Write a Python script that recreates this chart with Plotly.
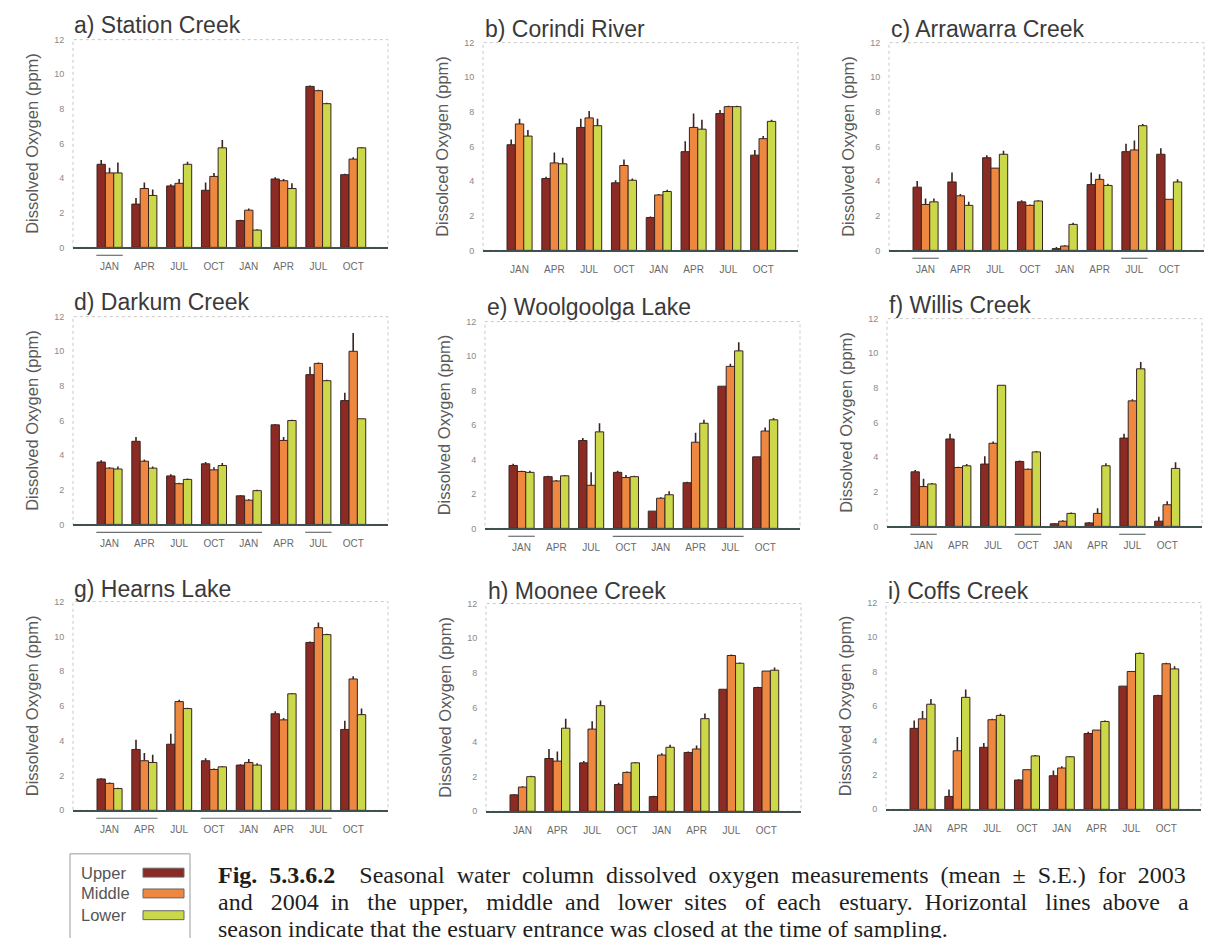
import plotly.graph_objects as go

# ---------------- data ----------------
months = ["JAN", "APR", "JUL", "OCT", "JAN", "APR", "JUL", "OCT"]
sites = ["Upper", "Middle", "Lower"]
site_colors = ["#8c2a24", "#ee8740", "#cbd84a"]

# each *_mean / *_se : rows = Upper, Middle, Lower ; columns = sampling seasons 2003-2004
station_mean = [[4.8, 2.5, 3.55, 3.3, 1.55, 3.95, 9.3, 4.2],
                [4.3, 3.4, 3.7, 4.1, 2.15, 3.85, 9.05, 5.1],
                [4.3, 3.0, 4.8, 5.75, 1.0, 3.4, 8.3, 5.75]]
station_se = [[0.25, 0.35, 0.1, 0.45, 0.05, 0.1, 0.05, 0.05],
              [0.3, 0.35, 0.25, 0.2, 0.1, 0.1, 0.05, 0.1],
              [0.6, 0.35, 0.15, 0.45, 0.05, 0.3, 0.05, 0.05]]
station_closed = [(0, 0)]

corindi_mean = [[6.1, 4.15, 7.1, 3.9, 1.9, 5.7, 7.9, 5.5],
                [7.3, 5.05, 7.65, 4.9, 3.2, 7.1, 8.3, 6.45],
                [6.6, 5.0, 7.2, 4.05, 3.4, 7.0, 8.3, 7.45]]
corindi_se = [[0.3, 0.1, 0.5, 0.15, 0.05, 0.6, 0.2, 0.3],
              [0.3, 0.6, 0.4, 0.35, 0.05, 0.8, 0.05, 0.15],
              [0.35, 0.35, 0.4, 0.1, 0.1, 0.55, 0.05, 0.1]]
corindi_closed = []

arrawarra_mean = [[3.65, 3.95, 5.35, 2.8, 0.1, 3.8, 5.7, 5.55],
                  [2.65, 3.15, 4.75, 2.6, 0.25, 4.1, 5.8, 2.95],
                  [2.8, 2.6, 5.55, 2.85, 1.5, 3.75, 7.2, 3.95]]
arrawarra_se = [[0.35, 0.55, 0.15, 0.1, 0.1, 0.7, 0.45, 0.35],
                [0.35, 0.1, 0.0, 0.05, 0.05, 0.3, 0.55, 0.0],
                [0.2, 0.2, 0.2, 0.05, 0.1, 0.1, 0.1, 0.15]]
arrawarra_closed = [(0, 0), (6, 6)]

darkum_mean = [[3.6, 4.8, 2.8, 3.5, 1.65, 5.75, 8.65, 7.15],
               [3.25, 3.65, 2.35, 3.15, 1.4, 4.85, 9.3, 10.0],
               [3.2, 3.25, 2.6, 3.4, 1.95, 6.0, 8.3, 6.1]]
darkum_se = [[0.1, 0.25, 0.1, 0.1, 0.05, 0.05, 0.45, 0.45],
             [0.05, 0.1, 0.05, 0.15, 0.05, 0.2, 0.05, 1.05],
             [0.15, 0.1, 0.05, 0.15, 0.05, 0.05, 0.05, 0.0]]
darkum_closed = [(0, 4), (6, 6)]

woolgoolga_mean = [[3.65, 3.0, 5.1, 3.25, 1.0, 2.65, 8.25, 4.15],
                   [3.3, 2.75, 2.5, 2.95, 1.75, 5.0, 9.4, 5.65],
                   [3.25, 3.05, 5.6, 3.0, 1.95, 6.1, 10.3, 6.3]]
woolgoolga_se = [[0.1, 0.05, 0.15, 0.1, 0.0, 0.05, 0.0, 0.0],
                 [0.05, 0.05, 0.75, 0.15, 0.05, 0.55, 0.15, 0.2],
                 [0.1, 0.05, 0.5, 0.05, 0.2, 0.2, 0.5, 0.1]]
woolgoolga_closed = [(0, 0), (3, 6)]

willis_mean = [[3.15, 5.05, 3.6, 3.75, 0.15, 0.2, 5.1, 0.3],
               [2.3, 3.4, 4.8, 3.3, 0.3, 0.75, 7.25, 1.25],
               [2.45, 3.5, 8.15, 4.3, 0.75, 3.5, 9.1, 3.35]]
willis_se = [[0.1, 0.3, 0.45, 0.05, 0.05, 0.05, 0.25, 0.25],
             [0.45, 0.05, 0.1, 0.05, 0.05, 0.3, 0.1, 0.2],
             [0.05, 0.1, 0.0, 0.05, 0.05, 0.15, 0.4, 0.35]]
willis_closed = [(0, 0), (3, 3), (6, 6)]

hearns_mean = [[1.8, 3.5, 3.8, 2.85, 2.6, 5.55, 9.65, 4.65],
               [1.55, 2.85, 6.25, 2.35, 2.75, 5.2, 10.5, 7.55],
               [1.25, 2.75, 5.85, 2.5, 2.6, 6.7, 10.1, 5.5]]
hearns_se = [[0.05, 0.55, 0.6, 0.15, 0.05, 0.15, 0.05, 0.5],
             [0.05, 0.45, 0.1, 0.05, 0.2, 0.1, 0.3, 0.15],
             [0.05, 0.45, 0.05, 0.05, 0.1, 0.05, 0.05, 0.35]]
hearns_closed = [(0, 1), (3, 6)]

moonee_mean = [[0.95, 3.05, 2.8, 1.55, 0.85, 3.4, 7.05, 7.15],
               [1.4, 2.9, 4.75, 2.25, 3.25, 3.6, 9.0, 8.1],
               [2.0, 4.8, 6.1, 2.8, 3.7, 5.35, 8.55, 8.15]]
moonee_se = [[0.05, 0.55, 0.1, 0.1, 0.05, 0.05, 0.0, 0.05],
             [0.05, 0.55, 0.45, 0.05, 0.1, 0.2, 0.05, 0.0],
             [0.05, 0.55, 0.3, 0.05, 0.15, 0.3, 0.05, 0.15]]
moonee_closed = []

coffs_mean = [[4.7, 0.75, 3.6, 1.7, 1.95, 4.4, 7.15, 6.6],
              [5.25, 3.4, 5.2, 2.3, 2.4, 4.6, 8.0, 8.45],
              [6.1, 6.5, 5.45, 3.1, 3.05, 5.1, 9.05, 8.15]]
coffs_se = [[0.45, 0.4, 0.25, 0.05, 0.3, 0.1, 0.0, 0.05],
            [0.45, 0.8, 0.05, 0.0, 0.1, 0.0, 0.0, 0.05],
            [0.3, 0.45, 0.1, 0.05, 0.05, 0.05, 0.05, 0.15]]
coffs_closed = []

panel_titles = ["a) Station Creek", "b) Corindi River", "c) Arrawarra Creek",
                "d) Darkum Creek", "e) Woolgoolga Lake", "f) Willis Creek",
                "g) Hearns Lake", "h) Moonee Creek", "i) Coffs Creek"]
y_titles = ["Dissolved Oxygen (ppm)", "Dissolced Oxygen (ppm)", "Dissolved Oxygen (ppm)",
            "Dissolved Oxygen (ppm)", "Dissolved Oxygen (ppm)", "Dissolved Oxygen (ppm)",
            "Dissolved Oxygen (ppm)", "Dissolved Oxygen (ppm)", "Dissolved Oxygen (ppm)"]

caption_lines = [
    "<b>Fig. 5.3.6.2</b>  Seasonal water column dissolved oxygen measurements (mean ± S.E.) for 2003",
    "and 2004 in the upper, middle and lower sites of each estuary. Horizontal lines above a",
    "season indicate that the estuary entrance was closed at the time of sampling.",
]

# ---------------- layout geometry (pixels) ----------------
W, H = 1206, 938
boxes = [(73, 388, 35, 245), (483, 798, 38, 248), (889, 1204, 38, 248),
         (73, 388, 315, 525), (485, 800, 320, 529), (887, 1202, 317, 527),
         (73, 388, 603, 814), (486, 801, 605, 815), (886, 1201, 604, 813)]
title_pos = [(72, 20), (483, 24), (889, 24), (72, 300), (485, 305), (887, 303),
             (72, 590), (486, 592), (886, 592)]
XR = [-1.05, 8.0]

means_all = [station_mean, corindi_mean, arrawarra_mean, darkum_mean, woolgoolga_mean,
             willis_mean, hearns_mean, moonee_mean, coffs_mean]
se_all = [station_se, corindi_se, arrawarra_se, darkum_se, woolgoolga_se,
          willis_se, hearns_se, moonee_se, coffs_se]
closed_all = [station_closed, corindi_closed, arrawarra_closed, darkum_closed,
              woolgoolga_closed, willis_closed, hearns_closed, moonee_closed, coffs_closed]

FONT = "Liberation Sans, Arial, sans-serif"
NB = "\u00a0"


def justify(text, pattern):
    """widen the word gaps of a caption line (justified text in the original)"""
    words = text.split(" ")
    out = words[0]
    for i, w in enumerate(words[1:]):
        out += " " + NB * pattern[i % len(pattern)] + w
    return out


fig = go.Figure()
shapes = []
annotations = []
layout_axes = {}

for k in range(9):
    n = k + 1
    xa = "x" if n == 1 else f"x{n}"
    ya = "y" if n == 1 else f"y{n}"
    xkey = "xaxis" if n == 1 else f"xaxis{n}"
    ykey = "yaxis" if n == 1 else f"yaxis{n}"
    L, R, T, B = boxes[k]
    for s in range(3):
        fig.add_trace(go.Bar(
            x=list(range(len(months))), y=means_all[k][s], name=sites[s],
            marker=dict(color=site_colors[s], line=dict(color="#3a2420", width=1)),
            error_y=dict(type="data", array=se_all[k][s], arrayminus=[0] * len(months),
                         symmetric=False, color="#3a2420", thickness=1.6, width=0),
            xaxis=xa, yaxis=ya, showlegend=False, offsetgroup=str(s),
        ))
    layout_axes[xkey] = dict(
        domain=[L / W, R / W], anchor=ya, range=XR,
        tickmode="array", tickvals=list(range(len(months))), ticktext=months,
        ticks="outside", ticklen=9, tickcolor="rgba(0,0,0,0)",
        tickfont=dict(size=10, color="#6a6a6a", family=FONT),
        showline=True, linecolor="#3f5050", linewidth=1.5,
        showgrid=False, zeroline=False, fixedrange=True,
    )
    layout_axes[ykey] = dict(
        domain=[1 - B / H, 1 - T / H], anchor=xa, range=[0, 12],
        tickvals=[0, 2, 4, 6, 8, 10, 12],
        ticks="outside", ticklen=6, tickcolor="rgba(0,0,0,0)",
        tickfont=dict(size=9, color="#8a8a8a", family=FONT),
        showline=False, showgrid=False, zeroline=False, fixedrange=True,
        title=dict(text=y_titles[k], font=dict(size=16.5, color="#5a5a5a", family=FONT), standoff=11),
    )
    # frame
    shapes.append(dict(type="rect", xref=f"{xa} domain", yref=f"{ya} domain",
                       x0=0, x1=1, y0=0, y1=1, layer="below",
                       line=dict(color="#c9c9c9", width=1, dash="dot")))
    # closed-entrance lines
    ph = B - T
    for (i0, i1) in closed_all[k]:
        fx0 = (i0 - 0.38 - XR[0]) / (XR[1] - XR[0])
        fx1 = (i1 + 0.38 - XR[0]) / (XR[1] - XR[0])
        shapes.append(dict(type="line", xref=f"{xa} domain", yref=f"{ya} domain",
                           x0=fx0, x1=fx1, y0=-8 / ph, y1=-8 / ph,
                           line=dict(color="#6a7070", width=1.2)))
    tx, ty = title_pos[k]
    annotations.append(dict(text=panel_titles[k], x=tx / W, y=1 - ty / H, xref="paper", yref="paper",
                            xanchor="left", yanchor="middle", showarrow=False,
                            font=dict(size=23, color="#3a3a3a", family=FONT)))

# legend box
shapes.append(dict(type="rect", xref="paper", yref="paper", x0=70 / W, x1=190 / W,
                   y0=1 - 950 / H, y1=1 - 858 / H, line=dict(color="#9a9a9a", width=1)))
for s, yy in enumerate([877, 898, 920]):
    annotations.append(dict(text=sites[s], x=79 / W, y=1 - yy / H, xref="paper", yref="paper",
                            xanchor="left", yanchor="middle", showarrow=False,
                            font=dict(size=16.5, color="#555555", family=FONT)))
    shapes.append(dict(type="rect", xref="paper", yref="paper", x0=143 / W, x1=184 / W,
                       y0=1 - (yy + 4.5) / H, y1=1 - (yy - 4.5) / H,
                       fillcolor=site_colors[s], line=dict(color="#666666", width=1)))

# caption
cap_text = [justify(caption_lines[0], [1]), justify(caption_lines[1], [2, 1]), caption_lines[2]]
for j, line in enumerate(cap_text):
    annotations.append(dict(text=line, x=216 / W, y=1 - [879, 907, 934][j] / H,
                            xref="paper", yref="paper", xanchor="left", yanchor="middle",
                            showarrow=False,
                            font=dict(size=24, color="#1e1e1e",
                                      family="Liberation Serif, Times New Roman, serif")))

fig.update_layout(
    width=W, height=H, margin=dict(l=0, r=0, t=0, b=0),
    paper_bgcolor="white", plot_bgcolor="white",
    barmode="group", bargap=0.28, bargroupgap=0,
    shapes=shapes, annotations=annotations, showlegend=False,
    **layout_axes,
)
fig.write_html("out.html", config={"displayModeBar": False},
               post_script="document.body.style.margin='0';document.body.style.overflow='hidden';")
